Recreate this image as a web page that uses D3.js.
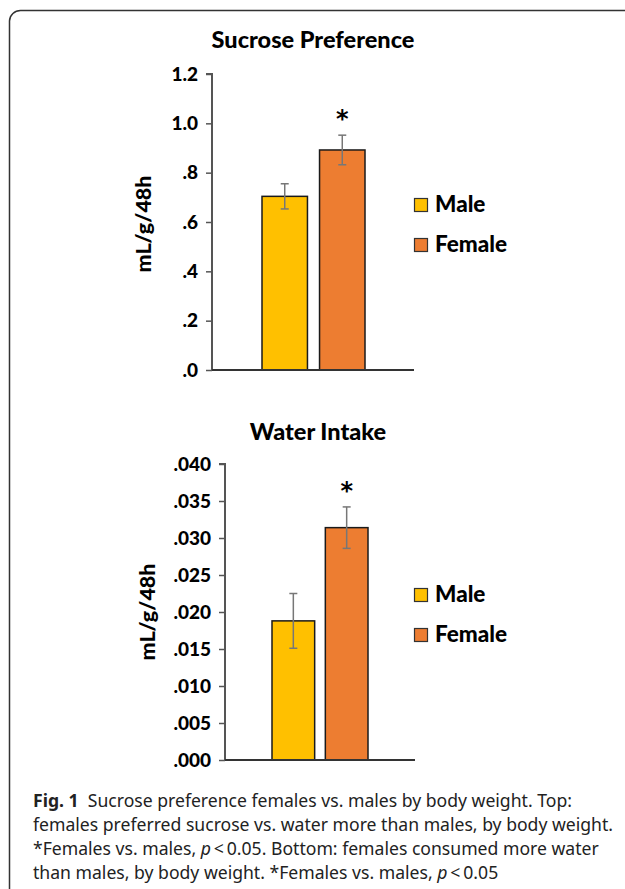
<!DOCTYPE html>
<html><head><meta charset="utf-8">
<script src="https://cdn.jsdelivr.net/npm/d3@7"></script>
<style>
html,body{margin:0;padding:0;background:#fff;}
svg{display:block;}
</style></head>
<body>
<script>
const categories = ["Male", "Female"];
const sucroseMeans = [0.704, 0.892];
const sucroseErr = [0.051, 0.060];
const sucroseTicks = [0, 0.2, 0.4, 0.6, 0.8, 1.0, 1.2];
const waterMeans = [0.0188, 0.0314];
const waterErr = [0.0037, 0.0028];
const waterTicks = [0, 0.005, 0.010, 0.015, 0.020, 0.025, 0.030, 0.035, 0.040];
const colors = ["#FFC000", "#ED7D31"];
const significant = [false, true];
const titles = ["Sucrose Preference", "Water Intake"];
const yLabel = "mL/g/48h";

const W = 625, H = 889;
const svg = d3.select("body").append("svg").attr("width", W).attr("height", H);
const chartFont = "Lato, 'Open Sans', sans-serif";
const heavy = 900;

// frame
svg.append("path")
  .attr("d", `M9.5,${H} V21 A11,11 0 0 1 20.5,10.5 H${W}`)
  .attr("fill", "none").attr("stroke", "#333").attr("stroke-width", 1.5);

function stripZero(s){ return s.replace(/^0\./, ".").replace(/^-0\./, "-."); }

function drawChart(cfg){
  const g = svg.append("g");
  const y = d3.scaleLinear().domain(cfg.domain).range([cfg.y0, cfg.y1]);
  const x = d3.scaleBand().domain(categories).range(cfg.barRange).paddingInner(cfg.pad).paddingOuter(0);

  // title
  g.append("text").attr("x", cfg.titleX).attr("y", cfg.titleY)
    .attr("text-anchor", "middle").attr("font-family", chartFont)
    .attr("font-weight", heavy).attr("font-size", 23.5).attr("fill", "#000")
    .text(cfg.title);

  // bars
  g.selectAll("rect.bar").data(categories).join("rect")
    .attr("x", d => x(d)).attr("width", x.bandwidth())
    .attr("y", (d,i) => y(cfg.means[i]))
    .attr("height", (d,i) => y(0) - y(cfg.means[i]))
    .attr("fill", (d,i) => colors[i]).attr("stroke", "#1a1a1a").attr("stroke-width", 1.5);

  // error bars
  const eb = g.selectAll("g.err").data(categories).join("g")
    .attr("stroke", "#777").attr("stroke-width", 1.5);
  eb.append("line")
    .attr("x1", d => x(d) + x.bandwidth()/2).attr("x2", d => x(d) + x.bandwidth()/2)
    .attr("y1", (d,i) => y(cfg.means[i] + cfg.err[i])).attr("y2", (d,i) => y(cfg.means[i] - cfg.err[i]));
  eb.append("line")
    .attr("x1", d => x(d) + x.bandwidth()/2 - 4).attr("x2", d => x(d) + x.bandwidth()/2 + 4)
    .attr("y1", (d,i) => y(cfg.means[i] + cfg.err[i])).attr("y2", (d,i) => y(cfg.means[i] + cfg.err[i]));
  eb.append("line")
    .attr("x1", d => x(d) + x.bandwidth()/2 - 4).attr("x2", d => x(d) + x.bandwidth()/2 + 4)
    .attr("y1", (d,i) => y(cfg.means[i] - cfg.err[i])).attr("y2", (d,i) => y(cfg.means[i] - cfg.err[i]));

  // significance
  g.selectAll("text.sig").data(categories.filter((d,i) => significant[i])).join("text")
    .attr("x", d => x(d) + x.bandwidth()/2)
    .attr("y", d => { const i = categories.indexOf(d); return y(cfg.means[i] + cfg.err[i]) - cfg.sigOffset; })
    .attr("text-anchor", "middle").attr("font-family", "'DejaVu Sans', sans-serif")
    .attr("font-weight", 700).attr("font-size", 24).attr("fill", "#000")
    .text("*");

  // y axis
  const yAxis = d3.axisLeft(y).tickValues(cfg.ticks).tickSize(6).tickPadding(8)
    .tickFormat(d => stripZero(d3.format(cfg.fmt)(d)));
  const ya = g.append("g").attr("transform", `translate(${cfg.axisX},0)`).call(yAxis);
  ya.select(".domain").attr("stroke", "#555").attr("stroke-width", 2).attr("d", `M-6,${y(cfg.domain[1])}H0V${y(0)}`);
  ya.selectAll(".tick line").attr("stroke", "#555").attr("stroke-width", 1.5);
  ya.selectAll(".tick text").attr("font-family", chartFont).attr("font-weight", heavy)
    .attr("font-size", 19).attr("fill", "#000");

  // x axis baseline
  g.append("line").attr("x1", cfg.axisX).attr("x2", cfg.axisEnd)
    .attr("y1", y(0)).attr("y2", y(0)).attr("stroke", "#333").attr("stroke-width", 2);

  // y label
  g.append("text").attr("transform", `translate(${cfg.labelX},${cfg.labelY}) rotate(-90)`)
    .attr("text-anchor", "middle").attr("font-family", chartFont).attr("font-weight", heavy)
    .attr("font-size", 21.5).attr("fill", "#000").text(yLabel);

  // legend
  const lg = g.selectAll("g.leg").data(categories).join("g")
    .attr("transform", (d,i) => `translate(414,${cfg.legendY + i*40})`);
  lg.append("rect").attr("x", 0.5).attr("y", -13.5).attr("width", 13).attr("height", 13)
    .attr("fill", (d,i) => colors[i]).attr("stroke", "#333").attr("stroke-width", 1.2);
  lg.append("text").attr("x", 21).attr("y", 0).attr("font-family", chartFont)
    .attr("font-weight", heavy).attr("font-size", 22.5).attr("fill", "#000").text(d => d);
}

drawChart({title: titles[0], titleX: 313, titleY: 48, domain: [0, 1.2], y0: 370, y1: 74,
  barRange: [262, 365], pad: 0.21, means: sucroseMeans, err: sucroseErr, ticks: sucroseTicks,
  fmt: ".1f", axisX: 212, axisEnd: 414, labelX: 151, labelY: 224, legendY: 212, sigOffset: 8});
drawChart({title: titles[1], titleX: 318, titleY: 440, domain: [0, 0.04], y0: 760, y1: 464,
  barRange: [272, 368], pad: 0.2, means: waterMeans, err: waterErr, ticks: waterTicks,
  fmt: ".3f", axisX: 225, axisEnd: 415, labelX: 155, labelY: 612, legendY: 602, sigOffset: 8});

// caption
const capFont = "'Noto Sans', 'Open Sans', sans-serif";
const cap = svg.append("text").attr("font-family", capFont).attr("font-size", 17.6).attr("fill", "#222")
  .attr("xml:space", "preserve");
const lines = [
  [{t: "Fig. 1", b: true}, {t: "  Sucrose preference females vs. males by body weight. Top:"}],
  [{t: "females preferred sucrose vs. water more than males, by body weight."}],
  [{t: "*Females vs. males, "}, {t: "p", i: true}, {t: "\u2009<\u20090.05. Bottom: females consumed more water"}],
  [{t: "than males, by body weight. *Females vs. males, "}, {t: "p", i: true}, {t: "\u2009<\u20090.05"}]
];
const capY = [807, 831, 855, 879];
lines.forEach((ln, k) => {
  const t = cap.append("tspan").attr("x", 33).attr("y", capY[k]);
  ln.forEach((seg, j) => {
    const s = j === 0 ? t : cap.append("tspan");
    s.text(seg.t);
    if (seg.b) s.attr("font-weight", 700);
    if (seg.i) s.attr("font-style", "italic");
  });
});
</script>
</body></html>
